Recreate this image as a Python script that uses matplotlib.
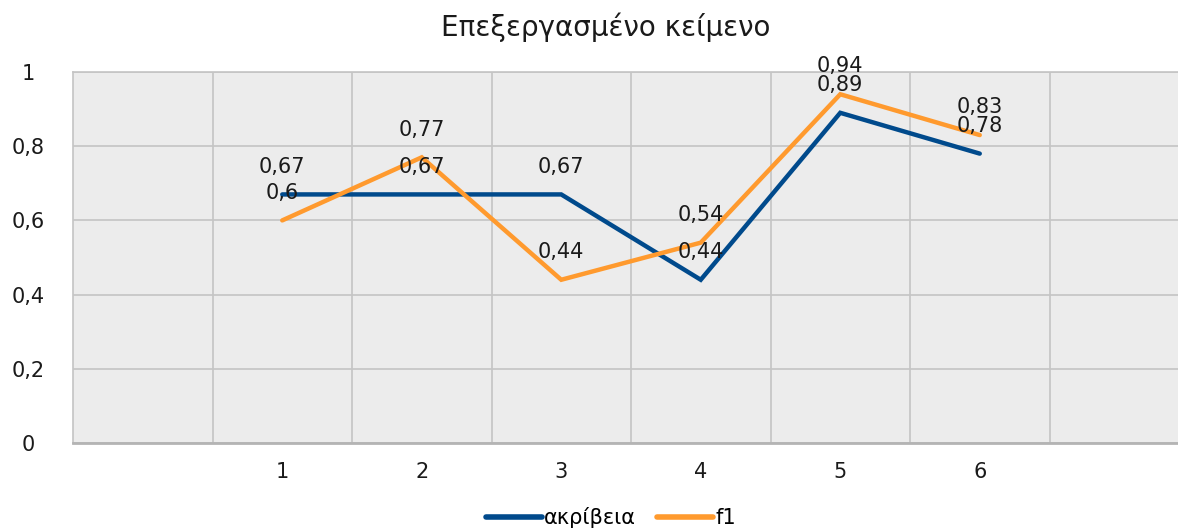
import matplotlib
matplotlib.use("Agg")
import matplotlib.pyplot as plt
from matplotlib.ticker import FixedLocator

# chart values
categories = ["1", "2", "3", "4", "5", "6"]
akriveia = [0.67, 0.67, 0.67, 0.44, 0.89, 0.78]
f1 = [0.60, 0.77, 0.44, 0.54, 0.94, 0.83]
y_ticks = [0, 0.2, 0.4, 0.6, 0.8, 1.0]
title = "Επεξεργασμένο κείμενο"

BLUE = "#004a8c"
ORANGE = "#ff9a2e"

plt.rcParams["font.family"] = ["DejaVu Sans"]

W, H = 1178, 528
fig = plt.figure(figsize=(W / 100, H / 100), dpi=100)
# plot area runs past the right edge of the picture, like the reference
ax = fig.add_axes([73 / W, (H - 443) / H, (1189 - 73) / W, (443 - 72) / H])
ax.set_facecolor("#ececec")

xs = list(range(1, len(categories) + 1))
ax.plot(xs, akriveia, color=BLUE, lw=3.2, solid_capstyle="round",
        solid_joinstyle="miter", label="ακρίβεια", zorder=3)
ax.plot(xs, f1, color=ORANGE, lw=3.2, solid_capstyle="round",
        solid_joinstyle="miter", label="f1", zorder=3)

def fmt(v):
    return ("%g" % v).replace(".", ",")

for series in (akriveia, f1):
    for x, v in zip(xs, series):
        ax.annotate(fmt(v), (x, v), xytext=(0, 20), textcoords="offset points",
                    ha="center", va="center", fontsize=15, color="#1a1a1a",
                    zorder=4)

ax.set_xlim(-0.5, len(categories) + 1.5)
ax.set_ylim(0, 1)
ax.set_xticks(xs)
ax.set_xticklabels(categories)
ax.xaxis.set_minor_locator(FixedLocator([i + 0.5 for i in range(len(categories) + 1)]))
ax.set_yticks(y_ticks)
ax.set_yticklabels([fmt(t) for t in y_ticks])

ax.grid(which="minor", axis="x", color="#c4c4c4", lw=1.2)
ax.grid(which="major", axis="y", color="#c4c4c4", lw=1.2)
ax.set_axisbelow(True)
ax.tick_params(which="both", length=0)
ax.tick_params(axis="x", labelsize=15, pad=14, colors="#1a1a1a")
ax.tick_params(axis="y", labelsize=15, colors="#1a1a1a", pad=32)
for lab in ax.get_yticklabels():
    lab.set_horizontalalignment("center")

for side in ("top", "right", "left"):
    ax.spines[side].set_color("#c4c4c4")
    ax.spines[side].set_linewidth(1.2)
ax.spines["bottom"].set_color("#b4b4b4")
ax.spines["bottom"].set_linewidth(2)

fig.text(606 / W, 1 - 27 / H, title, ha="center", va="center", fontsize=20,
         color="#1a1a1a")

leg = fig.legend(loc="center", bbox_to_anchor=(611 / W, 1 - 518 / H), ncol=2,
                 frameon=False, fontsize=15, handlelength=2.7,
                 handletextpad=0.1, columnspacing=1.0)
for line in leg.get_lines():
    line.set_linewidth(4)

fig.savefig("out.png", dpi=100)
